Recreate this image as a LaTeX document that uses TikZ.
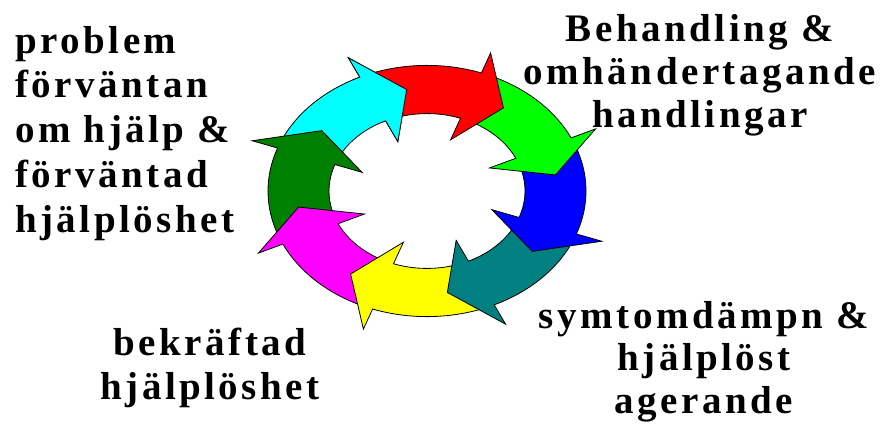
\documentclass[tikz,border=0pt]{standalone}
\usepackage{fontspec}
\setmainfont{Liberation Serif}[LetterSpace=9]
\definecolor{arrowred}{RGB}{255,0,0}
\definecolor{arrowgreen}{RGB}{0,255,0}
\definecolor{arrowblue}{RGB}{0,0,255}
\definecolor{arrowteal}{RGB}{0,128,128}
\definecolor{arrowyellow}{RGB}{255,255,0}
\definecolor{arrowmagenta}{RGB}{255,0,255}
\definecolor{arrowdkgreen}{RGB}{0,128,0}
\definecolor{arrowcyan}{RGB}{0,255,255}
% ring geometry (radii before the vertical squeeze)
\newcommand\ringIn{98}
\newcommand\ringOut{159}
\newcommand\barbIn{69}
\newcommand\barbOut{186}
\newcommand\tipR{130}
% one curved arrow of the cycle: #1 fill colour, #2 angle of its tip
\newcommand\ringarrow[2]{%
  \filldraw[ringarrowstyle, fill=#1]
    ({#2+57}:\ringOut) arc[start angle={#2+57}, end angle={#2+16}, radius=\ringOut]
    -- ({#2+16}:\barbOut) -- (#2:\tipR) -- ({#2+16}:\barbIn) -- ({#2+16}:\ringIn)
    arc[start angle={#2+16}, end angle={#2+57}, radius=\ringIn] -- cycle;
}
\begin{document}
\begin{tikzpicture}[x=1pt, y=1pt,
  ringarrowstyle/.style={draw=black, line width=0.8pt, line join=miter},
  textblock/.style={font=\fontsize{39}{#1}\selectfont\bfseries, inner sep=0pt}]
\fill[white] (0,0) rectangle (885,-425);
\useasboundingbox (0,0) rectangle (885,-425);

\begin{scope}[shift={(427,-191)}, yscale=0.79]
  \ringarrow{arrowcyan}{99}
  \ringarrow{arrowdkgreen}{144}
  \ringarrow{arrowmagenta}{-171}
  \ringarrow{arrowyellow}{-126}
  \ringarrow{arrowteal}{-81}
  \ringarrow{arrowblue}{-36}
  \ringarrow{arrowgreen}{9}
  \ringarrow{arrowred}{54}
  % the cyan head lies over the tail of the red arrow
  \begin{scope}
    \clip (0,0) -- (87:260) arc[start angle=87, end angle=118, radius=260] -- cycle;
    \ringarrow{arrowcyan}{99}
  \end{scope}
\end{scope}

% multi-line nodes: the base anchor sits on the last line
\node[textblock=44.7, align=left, anchor=base west] (expect) at (15,-232)
  {problem\\förväntan\\om hjälp \&\\förväntad\\hjälplöshet};
\node[textblock=43, align=center, anchor=base] (treat) at (700,-128)
  {Behandling \&\\omhändertagande\\handlingar};
\node[textblock=42.5, align=center, anchor=base] (symptom) at (704,-413)
  {symtomdämpn \&\\hjälplöst\\agerande};
\node[textblock=44, align=center, anchor=base] (confirmed) at (210,-399)
  {bekräftad\\hjälplöshet};
\end{tikzpicture}
\end{document}
